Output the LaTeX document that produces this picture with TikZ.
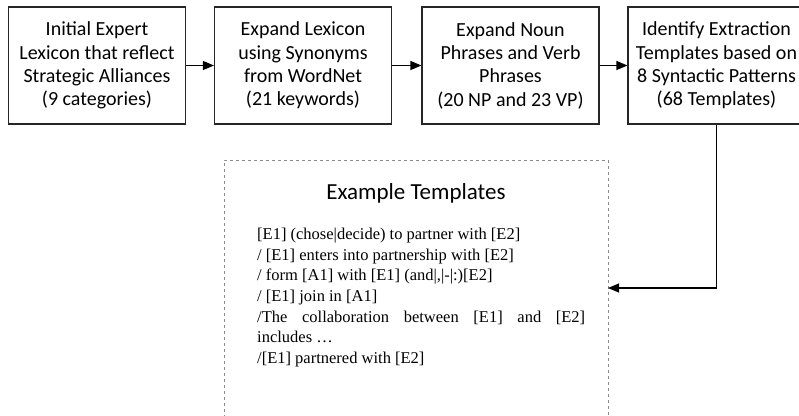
\documentclass[tikz,border=0pt]{standalone}
\usepackage{fontspec}
\setmainfont{Liberation Serif}
\newfontfamily\boxfamily{Carlito}
\usetikzlibrary{arrows.meta}

\begin{document}
\begin{tikzpicture}[
    x=1pt, y=-1pt,
    stage/.style={draw=black!85, line width=1.1pt, inner sep=0pt,
      minimum width=177pt, minimum height=117pt, align=center,
      font=\boxfamily\fontsize{20}{23.3}\selectfont},
    link/.style={draw=black, line width=1.1pt, -{Triangle[length=11pt,width=9pt]}},
    panel/.style={draw=black!45, dashed, line width=0.6pt}]

  \useasboundingbox (0,0) rectangle (799,415);

  \node[stage] (lex) at ( 97.0, 65.5) {Initial Expert\\Lexicon that reflect\\Strategic Alliances\\(9 categories)};
  \node[stage] (syn) at (303.0, 65.5) {Expand Lexicon\\using Synonyms\\from WordNet\\(21 keywords)};
  \node[stage] (phr) at (510.5, 65.5) {Expand Noun\\Phrases and Verb\\Phrases\\(20 NP and 23 VP)};
  \node[stage] (tpl) at (716.5, 65.5) {Identify Extraction\\Templates based on\\8 Syntactic Patterns\\(68 Templates)};

  % riquadro degli esempi (tagliato in basso)
  \draw[panel] (224,430) -- (224,160) -- (608,160) -- (608,430);
  \coordinate (ex) at (608,288);
  \node[font=\boxfamily\fontsize{23}{26}\selectfont] (extitle) at (416,193) {Example Templates};
  \node[anchor=north west, inner sep=0pt, text width=328pt, align=justify,
        font=\fontsize{16.5}{20.6}\selectfont] (exlist) at (257,228)
    {[E1] (chose|decide) to partner with [E2]\\
     / [E1] enters into partnership with [E2]\\
     / form [A1] with [E1] (and|,|-|:)[E2]\\
     / [E1] join in [A1]\\
     /The collaboration between [E1] and [E2]\linebreak includes \dots\\
     /[E1] partnered with [E2]};

  \draw[link] (lex) -- (syn);
  \draw[link] (syn) -- (phr);
  \draw[link] (phr) -- (tpl);
  \draw[link] (tpl.south) |- (ex);

\end{tikzpicture}
\end{document}
